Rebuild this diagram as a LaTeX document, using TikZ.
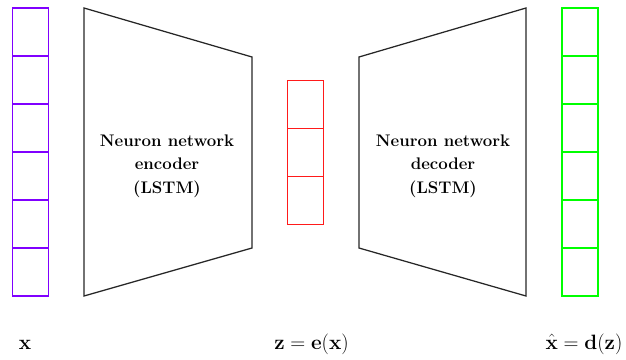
\documentclass[tikz,border=0pt]{standalone}
\usepackage{amsmath}
\usepackage{xcolor}
\usepackage{tikz}
\usetikzlibrary{positioning}
\definecolor{InViolet}{HTML}{8000FF}
\definecolor{CodeRed}{HTML}{FF1A1A}
\definecolor{OutGreen}{HTML}{00FF00}

\begin{document}
\begin{tikzpicture}[
  x=1pt,y=-1pt,
  node distance=0pt,
  cell/.style={line width=1.4pt,minimum width=36pt,minimum height=48pt,inner sep=0pt,outer sep=0pt},
  incell/.style={cell,draw=InViolet},
  codecell/.style={cell,draw=CodeRed},
  outcell/.style={cell,draw=OutGreen},
  net/.style={draw=black!85,line width=1.25pt,line join=miter},
  netlabel/.style={font=\fontsize{16.8}{23.5}\selectfont\bfseries,align=center},
  varlabel/.style={anchor=base,font=\fontsize{20.74}{25}\selectfont}
]
\useasboundingbox (0,0) rectangle (626,359);
% input x
\node[incell] (x1) at (30.5,32) {};
\node[incell,below=of x1] (x2) {};
\node[incell,below=of x2] (x3) {};
\node[incell,below=of x3] (x4) {};
\node[incell,below=of x4] (x5) {};
\node[incell,below=of x5] (x6) {};
% code z
\node[codecell] (z1) at (305.5,104.5) {};
\node[codecell,below=of z1] (z2) {};
\node[codecell,below=of z2] (z3) {};
% output x hat
\node[outcell] (y1) at (580,32) {};
\node[outcell,below=of y1] (y2) {};
\node[outcell,below=of y2] (y3) {};
\node[outcell,below=of y3] (y4) {};
\node[outcell,below=of y4] (y5) {};
\node[outcell,below=of y5] (y6) {};
% encoder / decoder
\draw[net] (84,8) -- (252,57) -- (252,248) -- (84,296) -- cycle;
\draw[net] (526,8) -- (359,57) -- (359,248) -- (526,296) -- cycle;
\node[netlabel] (enc) at (167,166) {Neuron network\\encoder\\(LSTM)};
\node[netlabel] (dec) at (443,166) {Neuron network\\decoder\\(LSTM)};
% labels
\node[varlabel] (xlab) at (25,349) {$\mathbf{x}$};
\node[varlabel] (zlab) at (311.5,349) {$\mathbf{z}=\mathbf{e}(\mathbf{x})$};
\node[varlabel] (ylab) at (584,349) {$\hat{\mathbf{x}}=\mathbf{d}(\mathbf{z})$};
\end{tikzpicture}
\end{document}
